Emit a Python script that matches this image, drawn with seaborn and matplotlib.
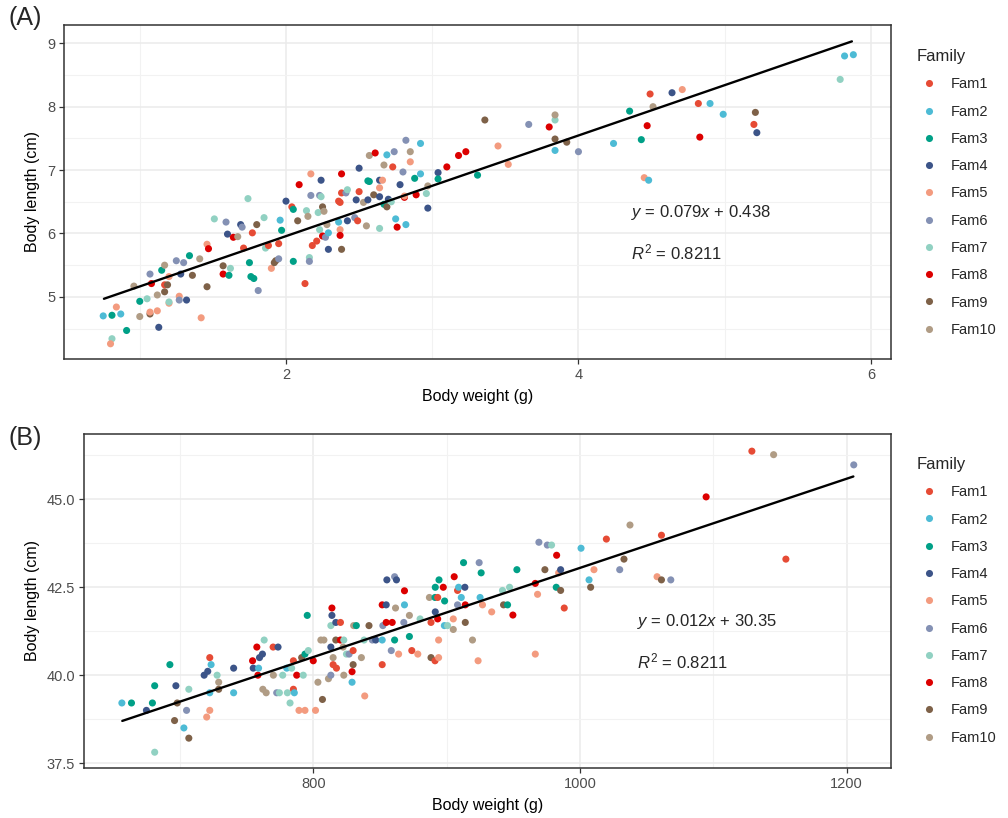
import matplotlib
matplotlib.use('Agg')
import matplotlib.pyplot as plt
import pandas as pd
import seaborn as sns

# ---- data ----
families = ['Fam1', 'Fam2', 'Fam3', 'Fam4', 'Fam5', 'Fam6', 'Fam7', 'Fam8', 'Fam9', 'Fam10']
npg_colors = ['#E64B35', '#4DBBD5', '#00A087', '#3C5488', '#F39B7F',
              '#8491B4', '#91D1C2', '#DC0000', '#7E6148', '#B09C85']

# panel A: body weight (g) vs body length (cm)
a_weight = [0.75, 0.81, 0.81, 0.80, 0.84, 0.87, 0.91, 0.96, 1.00, 1.00,
            1.05, 1.07, 1.07, 1.07, 1.08, 1.12, 1.12, 1.13, 1.15, 1.17,
            1.17, 1.17, 1.19, 1.20, 1.20, 1.20, 1.25, 1.27, 1.27, 1.28,
            1.30, 1.32, 1.34, 1.36, 1.41, 1.42, 1.46, 1.46, 1.47, 1.51,
            1.57, 1.57, 1.59, 1.60, 1.61, 1.62, 1.64, 1.67, 1.69, 1.70,
            1.71, 1.74, 1.75, 1.76, 1.78, 1.77, 1.80, 1.81, 1.85, 1.86,
            1.88, 1.90, 1.92, 1.93, 1.95, 1.95, 1.96, 1.97, 2.00, 2.04,
            2.05, 2.05, 2.08, 2.09, 2.13, 2.14, 2.15, 2.16, 2.16, 2.17,
            2.17, 2.18, 2.21, 2.22, 2.23, 2.24, 2.24, 2.23, 2.25, 2.25,
            2.26, 2.27, 2.28, 2.29, 2.29, 2.36, 2.37, 2.36, 2.37, 2.37,
            2.38, 2.38, 2.38, 2.41, 2.42, 2.42, 2.47, 2.48, 2.49, 2.50,
            2.50, 2.53, 2.55, 2.56, 2.56, 2.57, 2.57, 2.60, 2.61, 2.64,
            2.64, 2.64, 2.64, 2.66, 2.67, 2.67, 2.69, 2.69, 2.70, 2.72,
            2.73, 2.74, 2.75, 2.76, 2.78, 2.80, 2.81, 2.81, 2.82, 2.82,
            2.85, 2.85, 2.88, 2.89, 2.92, 2.92, 2.96, 2.97, 2.97, 3.04,
            3.04, 3.10, 3.18, 3.23, 3.31, 3.36, 3.45, 3.52, 3.66, 3.80,
            3.84, 3.84, 3.84, 3.84, 3.92, 4.00, 4.24, 4.35, 4.43, 4.45,
            4.48, 4.47, 4.49, 4.51, 4.64, 4.71, 4.82, 4.83, 4.90, 4.99,
            5.20, 5.21, 5.22, 5.79, 5.82, 5.88]
a_length = [4.70, 4.71, 4.34, 4.26, 4.84, 4.73, 4.47, 5.17, 4.93, 4.69,
            4.97, 4.73, 4.76, 5.36, 5.21, 4.78, 5.03, 4.52, 5.42, 5.50,
            5.08, 5.19, 5.19, 4.90, 4.92, 5.32, 5.57, 5.01, 4.95, 5.36,
            5.54, 4.95, 5.65, 5.34, 5.60, 4.67, 5.16, 5.83, 5.76, 6.23,
            5.49, 5.36, 6.18, 5.99, 5.34, 5.45, 5.94, 5.95, 6.14, 6.10,
            5.77, 6.55, 5.54, 5.32, 5.29, 6.01, 6.14, 5.10, 6.25, 5.77,
            5.81, 5.45, 5.54, 5.57, 5.60, 5.84, 6.21, 6.05, 6.51, 6.42,
            6.38, 5.56, 6.20, 6.77, 5.21, 6.36, 6.27, 5.62, 5.56, 6.94,
            6.60, 5.81, 5.88, 6.33, 6.60, 6.58, 6.84, 6.06, 6.42, 5.96,
            6.35, 5.94, 6.14, 5.75, 6.01, 6.51, 6.49, 6.18, 6.06, 5.97,
            6.94, 5.75, 6.64, 6.64, 6.69, 6.20, 6.25, 6.53, 6.20, 6.66,
            7.03, 6.49, 6.12, 6.83, 6.53, 7.23, 6.82, 6.61, 7.27, 6.08,
            6.84, 6.72, 6.58, 6.84, 7.08, 6.46, 6.42, 7.24, 6.54, 6.50,
            7.05, 7.29, 6.23, 6.10, 6.77, 6.97, 6.57, 6.59, 7.47, 6.14,
            7.13, 7.29, 6.87, 6.61, 7.42, 6.94, 6.63, 6.40, 6.75, 6.96,
            6.86, 7.05, 7.23, 7.29, 6.92, 7.79, 7.38, 7.09, 7.72, 7.68,
            7.79, 7.87, 7.49, 7.31, 7.44, 7.29, 7.42, 7.93, 7.48, 6.88,
            6.84, 7.70, 8.20, 8.00, 8.22, 8.27, 8.05, 7.52, 8.05, 7.88,
            7.72, 7.91, 7.59, 8.43, 8.80, 8.82]
a_family = [2, 3, 7, 5, 5, 2, 3, 10, 3, 10,
            7, 9, 5, 6, 8, 5, 10, 4, 3, 10,
            9, 1, 9, 5, 7, 5, 6, 5, 6, 4,
            6, 4, 3, 9, 10, 5, 9, 5, 8, 7,
            9, 8, 6, 4, 3, 7, 8, 10, 4, 6,
            1, 7, 3, 3, 3, 1, 9, 6, 7, 7,
            1, 5, 9, 9, 6, 1, 2, 3, 4, 1,
            3, 3, 9, 8, 1, 7, 10, 7, 6, 5,
            6, 1, 1, 7, 6, 7, 4, 7, 9, 8,
            10, 6, 10, 4, 2, 1, 1, 2, 5, 8,
            8, 9, 1, 6, 7, 4, 6, 4, 1, 1,
            4, 10, 10, 3, 4, 10, 3, 9, 8, 7,
            4, 5, 4, 5, 10, 3, 9, 2, 4, 7,
            1, 6, 2, 8, 4, 6, 8, 5, 6, 2,
            5, 10, 3, 8, 2, 2, 7, 4, 10, 4,
            3, 8, 8, 8, 3, 9, 5, 5, 6, 8,
            7, 10, 9, 2, 9, 6, 2, 3, 3, 5,
            2, 8, 1, 10, 4, 5, 1, 8, 2, 2,
            1, 9, 4, 7, 2, 2]
# fitted line as drawn in panel A (end points)
a_fit_weight = [0.755, 5.87]
a_fit_length = [4.97, 9.03]

# panel B
b_weight = [656.5, 663.7, 674.9, 679.4, 681.1, 681.1, 692.5, 696.0, 697.0, 698.0,
            703.0, 705.0, 706.7, 706.7, 718.2, 720.1, 720.9, 722.4, 722.4, 723.4,
            722.4, 727.9, 729.1, 729.1, 740.3, 740.3, 754.5, 755.0, 757.7, 758.5,
            759.0, 759.7, 761.9, 762.2, 763.2, 764.7, 769.9, 770.1, 773.6, 772.6,
            774.6, 777.1, 780.1, 780.6, 782.6, 783.8, 785.1, 785.1, 785.8, 787.6,
            789.3, 791.3, 792.5, 793.8, 793.8, 795.5, 796.3, 800.0, 801.7, 803.5,
            805.7, 806.9, 808.0, 811.4, 813.2, 813.2, 813.2, 814.0, 814.0, 814.9,
            814.9, 816.9, 817.4, 816.9, 820.4, 820.4, 822.4, 822.9, 822.9, 824.9,
            826.9, 829.1, 829.1, 829.9, 829.9, 830.3, 832.3, 836.1, 838.6, 838.1,
            841.8, 844.3, 846.8, 851.7, 851.7, 852.2, 851.7, 854.7, 854.7, 855.2,
            858.5, 859.2, 861.0, 861.0, 862.4, 861.7, 864.0, 868.4, 868.4, 867.9,
            872.1, 872.1, 873.9, 878.4, 880.1, 887.1, 888.3, 888.3, 891.3, 891.5,
            891.5, 891.3, 893.3, 893.3, 894.0, 894.0, 894.3, 897.5, 898.5, 898.3,
            900.7, 905.0, 905.0, 905.7, 908.2, 908.2, 909.0, 911.0, 912.7, 913.7,
            914.0, 914.0, 919.4, 923.6, 924.4, 925.9, 925.1, 926.9, 933.8, 941.9,
            947.2, 942.7, 945.7, 949.7, 952.7, 966.5, 968.2, 966.5, 969.2, 973.7,
            975.5, 978.7, 982.5, 982.2, 984.0, 985.5, 985.5, 988.2, 1000.8, 1006.8,
            1008.0, 1010.5, 1019.8, 1029.8, 1033.0, 1037.5, 1057.8, 1061.1, 1061.1, 1068.1,
            1094.6, 1128.9, 1145.2, 1154.4, 1205.3]
b_length = [39.21, 39.21, 39.00, 39.21, 39.70, 37.81, 40.30, 38.71, 39.70, 39.21,
            38.50, 39.00, 39.60, 38.21, 40.00, 38.81, 40.11, 39.50, 40.50, 40.30,
            39.00, 40.00, 39.80, 39.60, 40.20, 39.50, 40.41, 40.20, 40.80, 40.00,
            40.20, 40.50, 40.60, 39.60, 41.00, 39.50, 40.80, 40.00, 40.80, 39.50,
            39.50, 40.00, 40.20, 39.50, 39.21, 40.20, 40.41, 39.60, 39.50, 40.00,
            39.00, 40.50, 40.00, 39.00, 40.60, 41.70, 40.70, 40.41, 39.00, 39.80,
            41.00, 39.31, 41.00, 39.90, 40.00, 40.80, 41.41, 41.91, 41.70, 40.50,
            40.30, 41.50, 40.20, 41.00, 41.00, 41.50, 40.80, 41.00, 40.00, 40.60,
            40.60, 39.80, 40.10, 40.30, 40.70, 41.41, 41.41, 40.50, 39.41, 41.00,
            41.41, 41.00, 41.00, 40.30, 41.00, 41.41, 42.00, 42.00, 41.50, 42.71,
            40.70, 41.50, 41.00, 42.80, 42.71, 41.91, 40.60, 42.40, 42.00, 41.50,
            41.70, 41.10, 40.70, 40.60, 41.60, 42.21, 40.50, 41.50, 40.41, 41.80,
            42.50, 42.21, 42.21, 41.60, 41.00, 40.50, 42.71, 42.50, 42.11, 41.41,
            41.41, 41.60, 41.30, 42.80, 42.41, 42.00, 42.50, 42.21, 43.20, 42.50,
            42.00, 41.50, 41.00, 40.41, 43.20, 42.91, 42.21, 42.00, 41.80, 42.41,
            42.50, 42.00, 42.00, 41.71, 43.00, 42.61, 42.30, 40.60, 43.78, 43.00,
            43.70, 43.70, 43.41, 42.50, 42.91, 43.00, 42.41, 41.91, 43.61, 42.71,
            42.50, 43.00, 43.87, 43.00, 43.30, 44.27, 42.80, 43.98, 42.71, 42.71,
            45.07, 46.37, 46.27, 43.30, 45.98]
b_family = [2, 3, 4, 3, 3, 7, 3, 9, 4, 9,
            2, 6, 7, 9, 4, 5, 4, 2, 1, 2,
            5, 7, 10, 9, 4, 2, 8, 4, 8, 8,
            2, 4, 4, 10, 7, 10, 1, 10, 4, 6,
            7, 7, 2, 7, 7, 7, 1, 1, 2, 8,
            5, 9, 7, 5, 3, 3, 7, 8, 5, 10,
            10, 9, 10, 10, 6, 4, 7, 8, 4, 10,
            1, 4, 1, 9, 8, 1, 10, 7, 10, 7,
            6, 2, 8, 9, 1, 10, 3, 10, 5, 7,
            9, 6, 4, 1, 2, 6, 8, 4, 8, 4,
            6, 8, 3, 6, 4, 10, 5, 8, 2, 6,
            10, 3, 1, 5, 7, 10, 9, 1, 1, 4,
            3, 3, 1, 8, 5, 5, 3, 8, 3, 2,
            7, 5, 10, 8, 1, 6, 2, 2, 3, 4,
            8, 9, 10, 5, 6, 3, 2, 5, 5, 7,
            7, 9, 3, 8, 3, 8, 5, 5, 6, 9,
            6, 7, 8, 3, 5, 4, 9, 1, 2, 2,
            9, 5, 1, 6, 9, 10, 5, 1, 9, 6,
            8, 1, 10, 1, 6]
b_fit_weight = [656.8, 1205.0]
b_fit_length = [38.70, 45.65]

# ---- style ----
sns.set_theme(style='whitegrid')
plt.rcParams['font.family'] = ['Liberation Sans', 'DejaVu Sans']
plt.rcParams['mathtext.fontset'] = 'custom'
plt.rcParams['mathtext.rm'] = 'Liberation Sans'
plt.rcParams['mathtext.it'] = 'Liberation Sans:italic'

fig = plt.figure(figsize=(10.08, 8.18), dpi=100)
ax_a = fig.add_axes([0.0638, 0.5615, 0.8202, 0.4076])
ax_b = fig.add_axes([0.0836, 0.0615, 0.8003, 0.4076])


def panel(ax, weight, length, fam, fit_w, fit_l, xlim, ylim, xt, xmin, yt, ylab_txt, ymin,
          eq_txt, leg_top, tag, tag_y):
    df = pd.DataFrame({'weight': weight, 'length': length,
                       'Family': [families[i - 1] for i in fam]})
    sns.scatterplot(data=df, x='weight', y='length', hue='Family', hue_order=families,
                    palette=npg_colors, s=26, linewidth=0, alpha=1, ax=ax, zorder=3)
    sns.lineplot(x=fit_w, y=fit_l, color='black', linewidth=1.7, ax=ax, zorder=4)

    ax.set_xlim(xlim)
    ax.set_ylim(ylim)
    ax.set_xticks(xt, labels=[str(v) for v in xt])
    ax.set_xticks(xmin, minor=True)
    ax.set_yticks(yt, labels=ylab_txt)
    ax.set_yticks(ymin, minor=True)
    ax.grid(which='major', color='#EBEBEB', linewidth=1.1)
    ax.grid(which='minor', color='#F2F2F2', linewidth=0.8)
    ax.set_facecolor('white')
    for sp in ax.spines.values():
        sp.set_color('#333333')
        sp.set_linewidth(1.1)
    ax.tick_params(axis='both', which='major', length=3.5, width=0.9, color='#333333',
                   labelsize=10.5, labelcolor='#4D4D4D', pad=3, bottom=True, left=True)
    ax.tick_params(which='minor', length=0)
    ax.set_xlabel('Body weight (g)', fontsize=11.5, color='black', labelpad=5)
    ax.set_ylabel('Body length (cm)', fontsize=11.5, color='black', labelpad=5)

    ax.text(0.685, 0.437, eq_txt, transform=ax.transAxes, ha='left', va='center', fontsize=12)
    ax.text(0.685, 0.320, r'$R^2$ = 0.8211', transform=ax.transAxes, ha='left',
            va='center', fontsize=12)

    sns.move_legend(ax, 'upper left', bbox_to_anchor=(0.9097, leg_top),
                    bbox_transform=fig.transFigure, frameon=False, title='Family',
                    fontsize=10.5, title_fontsize=12, labelspacing=0.91,
                    handlelength=1.6, handletextpad=0.7, borderpad=0,
                    borderaxespad=0, alignment='left', markerscale=1.0)
    fig.text(0.008, tag_y, tag, fontsize=18, va='center', ha='left')


panel(ax_a, a_weight, a_length, a_family, a_fit_weight, a_fit_length,
      (0.484, 6.138), (4.025, 9.284), [2, 4, 6], [1, 3, 5],
      [5, 6, 7, 8, 9], ['5', '6', '7', '8', '9'], [4.5, 5.5, 6.5, 7.5, 8.5],
      r'$y$ = 0.079$x$ + 0.438', 0.9400, '(A)', 1 - 18 / 818)
panel(ax_b, b_weight, b_length, b_family, b_fit_weight, b_fit_length,
      (628.3, 1233.2), (37.37, 46.85), [800, 1000, 1200], [700, 900, 1100],
      [37.5, 40.0, 42.5, 45.0], ['37.5', '40.0', '42.5', '45.0'], [38.75, 41.25, 43.75, 46.25],
      r'$y$ = 0.012$x$ + 30.35', 0.4413, '(B)', 1 - 438 / 818)

fig.savefig('out.png', dpi=100)
